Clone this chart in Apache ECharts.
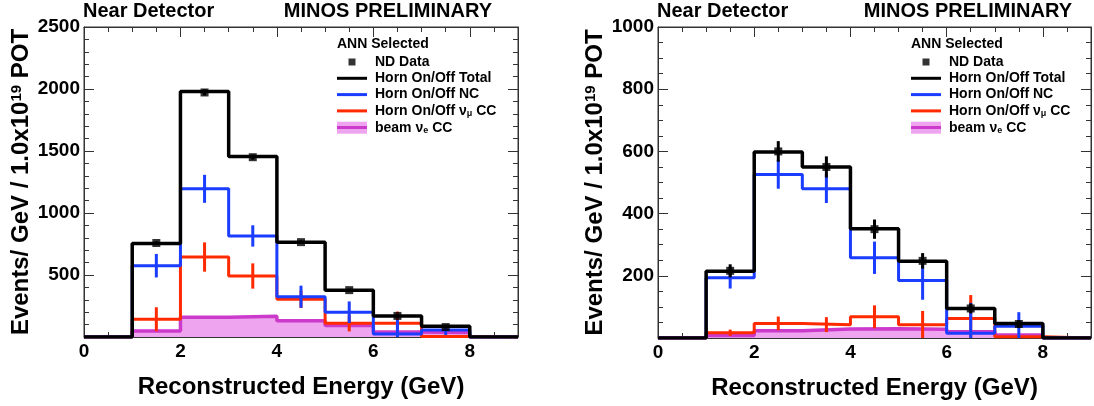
<!DOCTYPE html>
<html><head><meta charset="utf-8">
<script src="https://cdn.jsdelivr.net/npm/echarts@6/dist/echarts.min.js"></script>
<style>html,body{margin:0;padding:0;background:#fff}#c{width:1094px;height:406px}</style>
</head><body><div id="c"></div>
<script>
// Bin edges (GeV); histogram values are per bin 1-2, 2-3, ..., 7-8 GeV
const binEdges = [0, 1, 2, 3, 4, 5, 6, 7, 8, 9];
const firstBin = 1; // index of first filled bin in binEdges

// Left panel
const leftTotal   = [755, 1980, 1455, 765, 378, 169, 86];
const leftData    = [758, 1972, 1450, 765, 378, 170, 80];
const leftDataErr = [14, 24, 20, 14, 10, 8, 6];
const leftNC      = [575, 1195, 815, 325, 200, 25, 56];
const leftNCErr   = [95, 113, 86, 89, 87, 115, 40];
const leftNumu    = [143, 645, 492, 304, 110, 110, 4];
const leftNumuErr = [97, 118, 102, 70, 65, 95, 4];
const leftNue     = [48, 159, 168, 132, 92, 40, 36];

// Right panel
const rightTotal   = [215, 598, 550, 351, 247, 95, 47];
const rightData    = [216, 600, 550, 350, 248, 95, 45];
const rightDataErr = [21, 33, 34, 31, 25, 16, 12];
const rightNC      = [194, 526, 480, 258, 185, 15, 38];
const rightNCErr   = [35, 46, 46, 52, 62, 98, 45];
const rightNumu    = [17, 47, 43, 68, 43, 63, 4];
const rightNumuErr = [10, 22, 24, 37, 44, 75, 4];
const rightNue     = [8, 23, 29, 30, 28, 20, 10];

const leftYTicks = [0, 2500, 500];
const rightYTicks = [0, 1000, 200];
const xTicks = [0, 9, 2];

const FONT = '"Liberation Sans", Arial, Helvetica, sans-serif';
const BLACK = '#000000', BLUE = '#1a3dff', RED = '#ff2a00', MAG = '#cc3acc', PINK = '#eea4ee';

const N_DATA = 'ND Data', N_TOT = 'Horn On/Off Total', N_NC = 'Horn On/Off NC',
      N_NUMU = 'Horn On/Off \u03bd\u03bc CC', N_NUE = 'beam \u03bde CC';

function histData(vals) {
  const d = [];
  for (let i = 0; i < binEdges.length; i++) {
    const k = i - firstBin;
    d.push([binEdges[i], (k >= 0 && k < vals.length) ? vals[k] : 0]);
  }
  return d;
}
function errData(vals, errs) {
  return vals.map((v, k) => {
    const c = (binEdges[k + firstBin] + binEdges[k + firstBin + 1]) / 2;
    return [c, v - errs[k], v + errs[k]];
  });
}
function ptData(vals) {
  return vals.map((v, k) => [(binEdges[k + firstBin] + binEdges[k + firstBin + 1]) / 2, v]);
}
function errRender(color, w) {
  return function (params, api) {
    const x = api.value(0);
    const lo = api.coord([x, api.value(1)]);
    const hi = api.coord([x, api.value(2)]);
    return { type: 'line', shape: { x1: lo[0], y1: lo[1], x2: hi[0], y2: hi[1] },
             style: { stroke: color, lineWidth: w } };
  };
}

const chart = echarts.init(document.getElementById('c'), null, { renderer: 'canvas' });

const grids = [
  { left: 84, top: 27, width: 434, height: 310 },
  { left: 658, top: 27, width: 433, height: 311 }
];
const axisLineStyle = { color: '#333', width: 1 };

const xAxes = [], yAxes = [], series = [];
const panels = [
  { yt: leftYTicks, tot: leftTotal, dat: leftData, datE: leftDataErr, nc: leftNC, ncE: leftNCErr, mu: leftNumu, muE: leftNumuErr, nue: leftNue },
  { yt: rightYTicks, tot: rightTotal, dat: rightData, datE: rightDataErr, nc: rightNC, ncE: rightNCErr, mu: rightNumu, muE: rightNumuErr, nue: rightNue }
];

panels.forEach((p, g) => {
  const common = { gridIndex: g, type: 'value', splitLine: { show: false },
    axisLine: { show: true, onZero: false, lineStyle: axisLineStyle } };
  xAxes.push(Object.assign({}, common, {
    position: 'bottom', min: xTicks[0], max: xTicks[1], interval: xTicks[2],
    axisTick: { inside: true, length: 10, lineStyle: axisLineStyle },
    minorTick: { show: true, splitNumber: 4, length: 5, lineStyle: axisLineStyle },
    axisLabel: { margin: 5, fontFamily: FONT, fontWeight: 'bold', fontSize: 19, color: '#000',
      showMaxLabel: false, formatter: v => (v % xTicks[2] === 0 ? String(v) : '') },
    name: 'Reconstructed Energy (GeV)', nameLocation: 'middle', nameGap: 38,
    nameTextStyle: { fontFamily: FONT, fontWeight: 'bold', fontSize: 24, color: '#000' }
  }));
  xAxes.push(Object.assign({}, common, {
    position: 'top', min: xTicks[0], max: xTicks[1], interval: xTicks[2],
    axisTick: { inside: true, length: 10, lineStyle: axisLineStyle },
    minorTick: { show: true, splitNumber: 4, length: 5, lineStyle: axisLineStyle },
    axisLabel: { show: false }
  }));
  yAxes.push(Object.assign({}, common, {
    position: 'left', min: p.yt[0], max: p.yt[1], interval: p.yt[2],
    axisTick: { inside: true, length: 10, lineStyle: axisLineStyle },
    minorTick: { show: true, splitNumber: g === 0 ? 5 : 4, length: 5, lineStyle: axisLineStyle },
    axisLabel: { margin: 4, fontFamily: FONT, fontWeight: 'bold', fontSize: 19, color: '#000',
      formatter: v => (v === 0 ? '' : String(v)) },
    name: 'Events/ GeV / 1.0x10{sup|19} POT', nameLocation: 'middle', nameGap: 50, nameRotate: 90,
    nameTextStyle: { fontFamily: FONT, fontWeight: 'bold', fontSize: 24, color: '#000',
      rich: { sup: { fontFamily: FONT, fontWeight: 'bold', fontSize: 15, color: '#000', padding: [0, 0, 10, 0] } } }
  }));
  yAxes.push(Object.assign({}, common, {
    position: 'right', min: p.yt[0], max: p.yt[1], interval: p.yt[2],
    axisTick: { inside: true, length: 10, lineStyle: axisLineStyle },
    minorTick: { show: true, splitNumber: g === 0 ? 5 : 4, length: 5, lineStyle: axisLineStyle },
    axisLabel: { show: false }
  }));
  const xi = 2 * g, yi = 2 * g;
  const lineBase = { type: 'line', step: 'end', xAxisIndex: xi, yAxisIndex: yi, symbol: 'none', animation: false, silent: true };
  series.push(Object.assign({}, lineBase, { name: N_NUE, data: histData(p.nue), z: 1,
    lineStyle: { color: MAG, width: 3.5 }, itemStyle: { color: MAG }, areaStyle: { color: PINK, opacity: 1 } }));
  series.push(Object.assign({}, lineBase, { name: N_NUMU, data: histData(p.mu), z: 2,
    lineStyle: { color: RED, width: 3 }, itemStyle: { color: RED } }));
  series.push({ type: 'custom', name: 'numuErr' + g, xAxisIndex: xi, yAxisIndex: yi, clip: true, z: 2, animation: false, silent: true,
    renderItem: errRender(RED, 3), data: errData(p.mu, p.muE), encode: { x: 0, y: [1, 2] } });
  series.push(Object.assign({}, lineBase, { name: N_NC, data: histData(p.nc), z: 3,
    lineStyle: { color: BLUE, width: 3 }, itemStyle: { color: BLUE } }));
  series.push({ type: 'custom', name: 'ncErr' + g, xAxisIndex: xi, yAxisIndex: yi, clip: true, z: 3, animation: false, silent: true,
    renderItem: errRender(BLUE, 3), data: errData(p.nc, p.ncE), encode: { x: 0, y: [1, 2] } });
  series.push(Object.assign({}, lineBase, { name: N_TOT, data: histData(p.tot), z: 4,
    lineStyle: { color: BLACK, width: 3.5 }, itemStyle: { color: BLACK } }));
  series.push({ type: 'custom', name: 'dataErr' + g, xAxisIndex: xi, yAxisIndex: yi, clip: true, z: 5, animation: false, silent: true,
    renderItem: errRender(BLACK, 3), data: errData(p.dat, p.datE), encode: { x: 0, y: [1, 2] } });
  series.push({ type: 'scatter', name: N_DATA, xAxisIndex: xi, yAxisIndex: yi, z: 6, animation: false, silent: true,
    symbol: 'rect', symbolSize: 8, itemStyle: { color: BLACK }, data: ptData(p.dat) });
});

const SQUARE = 'path://M0,0M30,14M11.5,3.5L18.5,3.5L18.5,10.5L11.5,10.5Z';
const BAR3 = 'path://M0,0M30,14M0,5.5L30,5.5L30,8.5L0,8.5Z';
const BOX = 'path://M0,1L30,1L30,13L0,13Z';
const nueGrad = new echarts.graphic.LinearGradient(0, 0, 0, 1, [
  { offset: 0, color: PINK }, { offset: 0.38, color: PINK },
  { offset: 0.38, color: MAG }, { offset: 0.62, color: MAG },
  { offset: 0.62, color: PINK }, { offset: 1, color: PINK }]);

function legendAt(left) {
  return {
    left: left, top: 55, orient: 'vertical', itemWidth: 30, itemHeight: 14, itemGap: 2.3, padding: 0,
    selectedMode: false,
    itemStyle: { borderWidth: 0 },
    textStyle: { fontFamily: FONT, fontWeight: 'bold', fontSize: 14, color: '#000', padding: [0, 0, 0, 3],
      rich: { s: { fontFamily: FONT, fontWeight: 'bold', fontSize: 9, color: '#000', padding: [6, 0, 0, 0] } } },
    formatter: function (name) {
      if (name === N_NUMU) return 'Horn On/Off \u03bd{s|\u03bc} CC';
      if (name === N_NUE) return 'beam \u03bd{s|e} CC';
      return name;
    },
    data: [
      { name: N_DATA, icon: SQUARE, itemStyle: { color: BLACK, borderWidth: 0 } },
      { name: N_TOT, icon: BAR3, itemStyle: { color: BLACK, borderWidth: 0 } },
      { name: N_NC, icon: BAR3, itemStyle: { color: BLUE, borderWidth: 0 } },
      { name: N_NUMU, icon: BAR3, itemStyle: { color: RED, borderWidth: 0 } },
      { name: N_NUE, icon: BOX, itemStyle: { color: nueGrad, borderWidth: 0 } }
    ]
  };
}

const titleStyle = { fontFamily: FONT, fontWeight: 'bold', fontSize: 20, color: '#000' };
const option = {
  backgroundColor: '#ffffff',
  animation: false,
  title: [
    { text: 'Near Detector', left: 83, top: 1, padding: 0, textStyle: titleStyle },
    { text: 'MINOS PRELIMINARY', right: 602, top: 1, padding: 0, textStyle: titleStyle },
    { text: 'Near Detector', left: 657, top: 1, padding: 0, textStyle: titleStyle },
    { text: 'MINOS PRELIMINARY', right: 22, top: 1, padding: 0, textStyle: titleStyle }
  ],
  graphic: [
    { type: 'text', left: 337, top: 37, style: { text: 'ANN Selected', font: 'bold 14px ' + FONT, fill: '#000' } },
    { type: 'text', left: 911, top: 37, style: { text: 'ANN Selected', font: 'bold 14px ' + FONT, fill: '#000' } }
  ],
  legend: [legendAt(337), legendAt(911)],
  grid: grids.map(g => Object.assign({ show: true, borderColor: '#333', borderWidth: 1, backgroundColor: 'transparent' }, g)),
  xAxis: xAxes,
  yAxis: yAxes,
  series: series
};
chart.setOption(option);
</script>
</body></html>
